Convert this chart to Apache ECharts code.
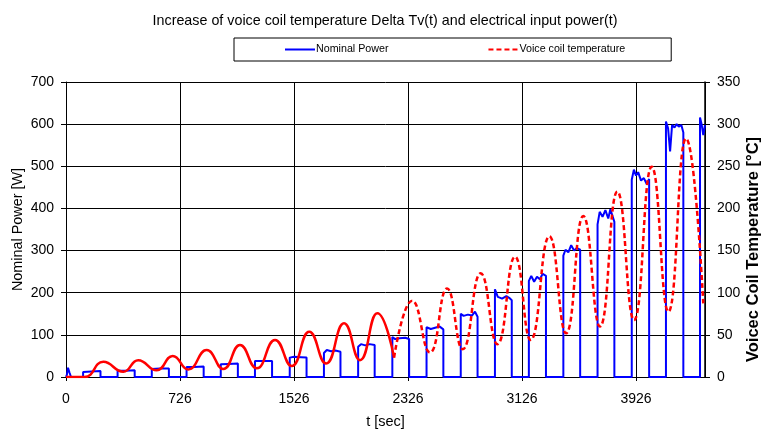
<!DOCTYPE html>
<html>
<head>
<meta charset="utf-8">
<script src="https://cdn.jsdelivr.net/npm/echarts@6/dist/echarts.min.js"></script>
<style>
html,body{margin:0;padding:0;background:#fff;}
#chart{width:764px;height:430px;}
</style>
</head>
<body>
<div id="chart"></div>
<script>
// Tick labels of the time axis (one per major tick)
const xTickLabels = ['0', '726', '1526', '2326', '3126', '3926'];
const powerTicks = [0, 100, 200, 300, 400, 500, 600, 700];
const tempTicks = [0, 50, 100, 150, 200, 250, 300, 350];

// Nominal power trace [t, W]
const powerTrace = [
  [0,0],[6,5],[14,22],[25,10],[35,0],
  [120,0],[120,12],[180,13],[242,14],[242,0],
  [362,0],[362,15],[420,15],[482,16],[482,0],
  [602,0],[602,19],[660,20],[722,20],[722,0],
  [846,0],[846,24],[900,24],[966,25],[966,0],
  [1086,0],[1086,30],[1140,31],[1206,32],[1206,0],
  [1326,0],[1326,38],[1340,40],[1400,38],[1446,38],[1446,0],
  [1570,0],[1570,46],[1600,48],[1650,47],[1688,46],[1688,0],
  [1810,0],[1810,57],[1830,64],[1860,61],[1890,63],[1926,60],[1926,0],
  [2050,0],[2050,72],[2070,78],[2100,75],[2130,78],[2166,76],[2166,0],
  [2290,0],[2290,95],[2310,90],[2340,92],[2380,93],[2408,90],[2408,0],
  [2530,0],[2530,118],[2560,114],[2590,117],[2620,120],[2648,113],[2648,0],
  [2770,0],[2770,150],[2790,145],[2820,148],[2850,146],[2870,155],[2888,143],[2888,0],
  [3010,0],[3010,208],[3030,190],[3060,186],[3090,192],[3110,188],[3128,182],[3128,0],
  [3248,0],[3248,228],[3265,240],[3285,226],[3305,238],[3325,232],[3345,245],[3368,240],[3368,0],
  [3490,0],[3490,288],[3505,302],[3525,296],[3545,313],[3565,300],[3585,306],[3608,302],[3608,0],
  [3730,0],[3730,362],[3745,392],[3765,380],[3785,396],[3805,376],[3820,398],[3835,382],[3848,368],[3848,0],
  [3970,0],[3970,468],[3985,492],[4000,478],[4015,486],[4035,466],[4055,472],[4075,458],[4092,470],[4092,0],
  [4210,0],[4210,606],[4225,590],[4239,535],[4253,598],[4270,592],[4285,600],[4300,594],[4318,598],[4332,580],[4332,0],
  [4449,0],[4449,616],[4460,600],[4472,574],[4484,598]
];

// Voice coil temperature trace [t, °C]
const tempTrace = [
  [0,0],[130,0],[262,18],[402,6.3],[507,20],[636,8],[749,25],[858,9],[987,32],[1104,9.5],
  [1221,38],[1338,10.3],[1467,44],[1584,13],[1707,53.7],[1825,16],[1951,63.7],[2063,20],
  [2185,75.6],[2302,23],[2430,90.5],[2554,29],[2674,105],[2784,33],[2910,123],[3027,39],
  [3151,142.7],[3261,44],[3392,167],[3509,52],[3630,191],[3747,60],[3869,220],[3986,67.6],
  [4110,249.5],[4227,77.5],[4351,283],[4472,87.4]
];
// time from which the temperature line is drawn dashed
const dashFrom = 2302;

const FONT = '"Liberation Sans", Arial, sans-serif';
const tickStep = 800;
const tempSolid = tempTrace.filter(p => p[0] <= dashFrom);
const tempDashed = tempTrace.filter(p => p[0] >= dashFrom);

const chart = echarts.init(document.getElementById('chart'), null, {renderer: 'canvas'});
chart.setOption({
  animation: false,
  backgroundColor: '#fff',
  title: {
    text: 'Increase of voice coil temperature Delta Tv(t) and electrical input power(t)',
    left: 380, textAlign: 'center', top: 9,
    textStyle: {fontFamily: FONT, fontSize: 14.3, fontWeight: 'normal', color: '#000'}
  },
  legend: {
    data: ['Nominal Power', 'Voice coil temperature'],
    left: 234, top: 38,
    padding: [6, 46, 6, 50],
    itemGap: 99, itemWidth: 30, itemHeight: 11,
    borderColor: '#000', borderWidth: 1, borderRadius: 0,
    itemStyle: {opacity: 0},
    textStyle: {fontFamily: FONT, fontSize: 10.7, color: '#000', padding: [0, 0, 0, -4]}
  },
  grid: {left: 66, right: 59, top: 82, bottom: 53, containLabel: false, outerBoundsMode: 'none'},
  xAxis: {
    type: 'value', min: 0, max: 4484, interval: tickStep,
    name: 't [sec]', nameLocation: 'middle', nameGap: 37, nameMoveOverlap: false,
    nameTextStyle: {fontFamily: FONT, fontSize: 14.5, color: '#000'},
    axisLine: {show: true, lineStyle: {color: '#000', width: 1}},
    axisTick: {show: true, inside: false, length: 4, lineStyle: {color: '#000'}},
    axisLabel: {
      fontFamily: FONT, fontSize: 14, color: '#000', margin: 15,
      showMaxLabel: false,
      formatter: v => {
        const i = Math.round(v / tickStep);
        return (Math.abs(v - i * tickStep) < 1 && i < xTickLabels.length) ? xTickLabels[i] : '';
      }
    },
    splitLine: {show: true, lineStyle: {color: '#000', width: 1}}
  },
  yAxis: [{
    type: 'value', min: powerTicks[0], max: powerTicks[powerTicks.length - 1], interval: 100,
    name: 'Nominal Power [W]', nameLocation: 'middle', nameGap: 41, nameRotate: 90, nameMoveOverlap: false,
    nameTextStyle: {fontFamily: FONT, fontSize: 14.4, color: '#000'},
    axisLine: {show: true, lineStyle: {color: '#000', width: 1}},
    axisTick: {show: true, inside: false, length: 5, lineStyle: {color: '#000'}},
    axisLabel: {fontFamily: FONT, fontSize: 14, color: '#000', margin: 12},
    splitLine: {show: true, lineStyle: {color: '#000', width: 1}}
  }, {
    type: 'value', position: 'right', min: tempTicks[0], max: tempTicks[tempTicks.length - 1], interval: 50,
    name: 'Voicec Coil Temperature [°C]', nameLocation: 'middle', nameGap: 40, nameRotate: 90, nameMoveOverlap: false,
    nameTextStyle: {fontFamily: FONT, fontSize: 16.5, fontWeight: 'bold', color: '#000', padding: [0, 40, 0, 0]},
    axisLine: {show: true, lineStyle: {color: '#000', width: 1.5}},
    axisTick: {show: true, inside: false, length: 5, lineStyle: {color: '#000'}},
    axisLabel: {fontFamily: FONT, fontSize: 14, color: '#000', margin: 12},
    splitLine: {show: false}
  }],
  series: [{
    name: 'Nominal Power', type: 'line', yAxisIndex: 0, data: powerTrace,
    symbol: 'none', color: '#0000ff',
    lineStyle: {color: '#0000ff', width: 2}, z: 3
  }, {
    name: 'Voice coil temperature (early)', type: 'line', yAxisIndex: 1, data: tempSolid,
    symbol: 'none', smooth: 0.5, color: '#ff0000',
    lineStyle: {color: '#ff0000', width: 2.5}, z: 4
  }, {
    name: 'Voice coil temperature', type: 'line', yAxisIndex: 1, data: tempDashed,
    symbol: 'none', smooth: 0.5, color: '#ff0000',
    lineStyle: {color: '#ff0000', width: 2.5, type: [5, 3]}, z: 4
  }]
});
</script>
</body>
</html>
